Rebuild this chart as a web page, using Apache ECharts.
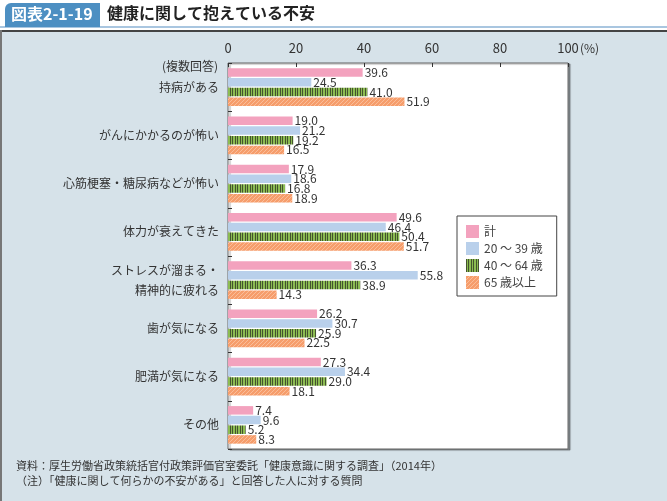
<!DOCTYPE html>
<html><head><meta charset="utf-8">
<script src="https://cdn.jsdelivr.net/npm/echarts@6/dist/echarts.min.js"></script>
<style>html,body{margin:0;padding:0;background:#fff}#c{width:667px;height:501px}</style>
</head><body><div id="c"></div>
<script>
var categories = ['持病がある','がんにかかるのが怖い','心筋梗塞・糖尿病などが怖い','体力が衰えてきた','ストレスが溜まる・\n精神的に疲れる','歯が気になる','肥満が気になる','その他'];
var seriesNames = ['計','20 ～ 39 歳','40 ～ 64 歳','65 歳以上'];
var totalVals = [39.6,19.0,17.9,49.6,36.3,26.2,27.3,7.4];
var age20Vals = [24.5,21.2,18.6,46.4,55.8,30.7,34.4,9.6];
var age40Vals = [41.0,19.2,16.8,50.4,38.9,25.9,29.0,5.2];
var age65Vals = [51.9,16.5,18.9,51.7,14.3,22.5,18.1,8.3];
var xTicks = [0,20,40,60,80,100];

function stripeCanvas(){
  var c=document.createElement('canvas');c.width=5;c.height=4;var g=c.getContext('2d');
  g.fillStyle='#8cbc52';g.fillRect(0,0,5,4);
  g.fillStyle='#44532f';g.fillRect(0,0,1,4);g.fillRect(2,0,1,4);
  return c;
}
function hatchCanvas(){
  var c=document.createElement('canvas');c.width=4;c.height=4;var g=c.getContext('2d');
  g.fillStyle='#f69d6b';g.fillRect(0,0,4,4);
  g.strokeStyle='#fbc5a5';g.lineWidth=0.8;
  g.beginPath();g.moveTo(0,4);g.lineTo(4,0);g.moveTo(-1,1);g.lineTo(1,-1);g.moveTo(3,5);g.lineTo(5,3);g.stroke();
  return c;
}
var colors = ['#f3a2be','#b9d0eb',{image:stripeCanvas(),repeat:'repeat'},{image:hatchCanvas(),repeat:'repeat'}];
var vals = [totalVals,age20Vals,age40Vals,age65Vals];
var FONT = '"Noto Sans CJK JP", sans-serif';

var chart = echarts.init(document.getElementById('c'));
var series = vals.map(function(v,i){
  return {
    name: seriesNames[i], type:'bar', data:v, barWidth:8.5, barGap:'14%',
    itemStyle:{color:colors[i]},
    label:{show:true,position:'right',distance:2,fontSize:12,color:'#333',fontFamily:FONT,
      formatter:function(p){return p.value.toFixed(1);}},
    emphasis:{disabled:true}
  };
});
chart.setOption({
  animation:false,
  backgroundColor:'#d6e2e9',
  textStyle:{fontFamily:FONT},
  grid:{left:228,top:63,width:340,height:386,show:true,backgroundColor:'#fff',borderColor:'#666',borderWidth:1,
    shadowColor:'rgba(0,0,0,0.35)',shadowOffsetX:2,shadowOffsetY:1,shadowBlur:1},
  legend:{orient:'vertical',left:457,top:216,width:98,itemWidth:13,itemHeight:13,itemGap:4,
    backgroundColor:'#fff',borderColor:'#444',borderWidth:1,padding:[9,14,7,9],
    textStyle:{fontSize:12,color:'#444',fontFamily:FONT},
    data:seriesNames.map(function(n){return {name:n,icon:'rect'};})},
  xAxis:{type:'value',position:'top',min:0,max:100,interval:20,
    axisLine:{show:false},splitLine:{show:false},
    axisTick:{show:true,inside:true,length:4,lineStyle:{color:'#333'}},
    axisLabel:{fontSize:13,color:'#333',margin:8,fontFamily:FONT}},
  yAxis:{type:'category',data:categories,inverse:true,
    axisLine:{show:false},
    axisTick:{show:true,inside:true,length:4,lineStyle:{color:'#333'}},
    axisLabel:{fontSize:12,color:'#333',margin:9,lineHeight:20,fontFamily:FONT}},
  series:series,
  graphic:[
    {type:'rect',left:0,top:0,shape:{width:667,height:30},style:{fill:'#fff'},silent:true},
    {type:'rect',left:0,top:26,shape:{width:667,height:2},style:{fill:'#a9c6e0'},silent:true},
    {type:'rect',left:0,top:30,shape:{width:667,height:2},style:{fill:'#444'},silent:true},
    {type:'rect',left:0,top:30,shape:{width:2,height:471},style:{fill:'#777'},silent:true},
    {type:'rect',left:5,top:3,shape:{width:95,height:24,r:[6,0,0,0]},style:{fill:'#4d8fc2'},silent:true},
    {type:'text',left:11,top:6,style:{text:'図表2-1-19',fill:'#fff',font:'bold 16px '+FONT}},
    {type:'text',left:107,top:5,style:{text:'健康に関して抱えている不安',fill:'#222',font:'bold 16px '+FONT}},
    {type:'text',right:449,top:60,style:{text:'(複数回答)',fill:'#333',font:'12px '+FONT,textAlign:'right'}},
    {type:'text',left:580,top:42,style:{text:'(%)',fill:'#333',font:'12px '+FONT}},
    {type:'text',left:16,top:460,style:{text:'資料：厚生労働省政策統括官付政策評価官室委託「健康意識に関する調査」（2014年）',fill:'#333',font:'11px '+FONT}},
    {type:'text',left:16,top:475,style:{text:'（注）「健康に関して何らかの不安がある」と回答した人に対する質問',fill:'#333',font:'11px '+FONT}}
  ]
});
</script></body></html>
